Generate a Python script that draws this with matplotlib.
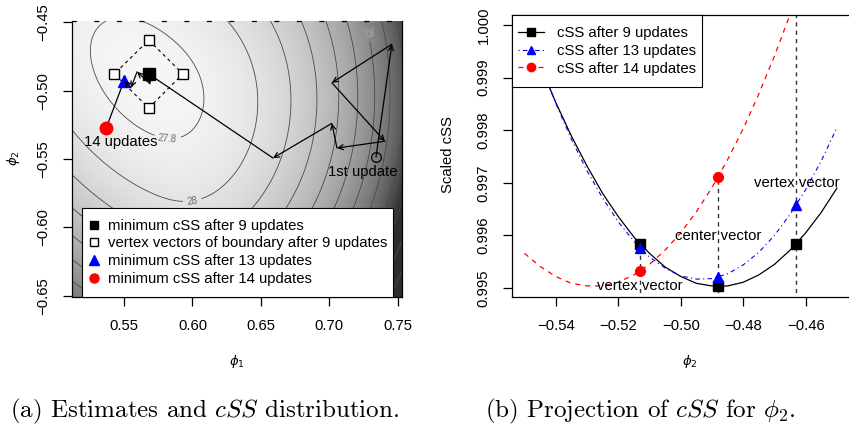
import numpy as np
import matplotlib
matplotlib.use("Agg")
import matplotlib.pyplot as plt
from matplotlib.colors import ListedColormap
from matplotlib.lines import Line2D
from matplotlib.path import Path

plt.rcParams.update({"font.family": ["Liberation Sans", "DejaVu Sans"], "font.size": 10.7,
                     "mathtext.fontset": "cm", "axes.linewidth": 0.9,
                     "xtick.major.width": 0.9, "ytick.major.width": 0.9})

W, H = 849, 425
FS = 10.7

# ---- (a) estimates on the cSS surface
path_phi1 = [0.734, 0.7456, 0.7018, 0.7405, 0.7055, 0.7018, 0.6588, 0.568, 0.569, 0.5595, 0.5551, 0.550]
path_phi2 = [-0.5486, -0.466, -0.4942, -0.537, -0.542, -0.5239, -0.5493, -0.4877, -0.495, -0.4862, -0.4978, -0.4928]
min9 = (0.568, -0.4877)
vert_phi1 = [0.568, 0.593, 0.568, 0.543]
vert_phi2 = [-0.463, -0.4877, -0.5127, -0.4877]
min13 = (0.550, -0.4928)
min14 = (0.5369, -0.5275)

# cSS surface: tilted bowl around the optimum, steeper towards large phi1
CSS_MIN = 27.74
CSS_CENTER = (0.568, -0.491)
CSS_LEVELS = np.round(np.arange(27.8, 30.41, 0.2), 1)
LABELLED = {27.8: (0.582, -0.532), 28.0: (0.5996, -0.579), 29.0: (0.728, -0.4572)}
LABEL_COLOR = {27.8: "#707070", 28.0: "#707070", 29.0: "#a8a8a8"}

# ---- (b) projection of cSS onto phi2
phi2_grid = [-0.550, -0.545, -0.540, -0.535, -0.530, -0.525, -0.520, -0.515, -0.510, -0.505, -0.500,
             -0.495, -0.490, -0.485, -0.480, -0.475, -0.470, -0.465, -0.460, -0.455, -0.450]
css9 = [1.00001, 0.99924, 0.99853, 0.99789, 0.99732, 0.99680, 0.99636, 0.99597, 0.99566, 0.99540, 0.99522,
        0.99509, 0.99504, 0.99504, 0.99511, 0.99525, 0.99545, 0.99572, 0.99605, 0.99644, 0.99690]
css13 = [1.00010, 0.99927, 0.99851, 0.99783, 0.99723, 0.99671, 0.99626, 0.99589, 0.99559, 0.99538, 0.99523,
         0.99517, 0.99518, 0.99527, 0.99544, 0.99568, 0.99600, 0.99640, 0.99687, 0.99742, 0.99805]
css14 = [0.99566, 0.99541, 0.99522, 0.99509, 0.99504, 0.99504, 0.99511, 0.99525, 0.99545, 0.99572, 0.99605,
         0.99645, 0.99691, 0.99744, 0.99803, 0.99869, 0.99941, 1.00020, 1.00105, 1.00197, 1.00295]
vec_phi2 = [-0.513, -0.488, -0.463]
pts9 = [0.99584, 0.99504, 0.99584]
pts13 = [0.99576, 0.99521, 0.99658]
pts14 = [0.99532, 0.99711]
vline_top = [0.99584, 0.99711, 1.0005]
vec_names = ["vertex vector", "center vector", "vertex vector"]
vec_text_y = [0.99503, 0.99599, 0.99700]


def px(x0, y0, x1, y1):
    return [x0 / W, 1 - y1 / H, (x1 - x0) / W, (y1 - y0) / H]


def tall_box(x0, y0, width, height, mutation_size):
    # legend frame with extra room above and below only, like R's legend()
    dy = 0.35 * mutation_size
    return Path([(x0, y0 - dy), (x0 + width, y0 - dy), (x0 + width, y0 + height + dy),
                 (x0, y0 + height + dy), (x0, y0 - dy)], closed=True)


fig = plt.figure(figsize=(W / 100, H / 100), dpi=100)
ax = fig.add_axes(px(72, 21, 402, 297))
ax2 = fig.add_axes(px(512, 15, 851, 297))
pad_px = 0.35 * FS * 100 / 72

# --- left panel
xlim, ylim = (0.512, 0.753), (-0.651, -0.449)
g1 = np.linspace(*xlim, 400)
g2 = np.linspace(*ylim, 400)
X, Y = np.meshgrid(g1, g2)
p = (X - CSS_CENTER[0]) * 1375
q = -(Y - CSS_CENTER[1]) * 1375
pp = np.clip(p, 0, None)
Z = CSS_MIN + 2e-5 * ((1.1 + 0.1 * (pp / 200) ** 2) * p ** 2
                      - 0.95 / (1 + (pp / 100) ** 2) * p * q + q ** 2)

t = np.linspace(0, 1, 256)
g = ((1 - t) * 0.965 ** 1.8 + t * 0.18 ** 1.8) ** (1 / 1.8)
grays = ListedColormap(np.stack([g, g, g], 1))
ax.imshow(Z, extent=(*xlim, *ylim), origin="lower", aspect="auto", cmap=grays,
          vmin=CSS_MIN, vmax=29.6, interpolation="bilinear")
plain = [lv for lv in CSS_LEVELS if float(lv) not in LABELLED]
ax.contour(X, Y, Z, levels=plain, colors="#4a4a4a", linewidths=0.6)
for lv, where in LABELLED.items():
    cl = ax.contour(X, Y, Z, levels=[lv], colors="#4a4a4a", linewidths=0.6)
    ax.clabel(cl, manual=[where], fmt=lambda v: f"{v:g}", fontsize=7,
              colors=LABEL_COLOR[lv], inline=True, inline_spacing=4)

ax.plot(vert_phi1 + vert_phi1[:1], vert_phi2 + vert_phi2[:1], color="k", lw=0.8, ls=(0, (3, 3)))
for i in range(len(path_phi1) - 1):
    ax.annotate("", xy=(path_phi1[i + 1], path_phi2[i + 1]), xytext=(path_phi1[i], path_phi2[i]),
                arrowprops=dict(arrowstyle="->", color="k", lw=0.9, shrinkA=0, shrinkB=0,
                                mutation_scale=9))
ax.plot([min14[0], min13[0]], [min14[1], min13[1]], color="k", lw=0.9)
ax.plot(path_phi1[0], path_phi2[0], "o", mfc="none", mec="k", ms=7, mew=0.9)
ax.plot(vert_phi1, vert_phi2, "s", mfc="white", mec="k", ms=7, mew=1)
ax.plot(*min9, "s", color="k", ms=8)
ax.plot(*min13, "^", color="blue", ms=9)
ax.plot(*min14, "o", color="red", ms=9)
ax.text(0.5478, -0.5377, "14 updates", ha="center", va="center", fontsize=FS)
ax.text(0.7245, -0.5594, "1st update", ha="center", va="center", fontsize=FS)

ax.set_xlim(xlim)
ax.set_ylim(ylim)
ax.set_xticks([0.55, 0.60, 0.65, 0.70, 0.75])
ax.set_xticklabels(["0.55", "0.60", "0.65", "0.70", "0.75"])
ax.set_yticks([-0.65, -0.60, -0.55, -0.50, -0.45])
ax.set_yticklabels(["\u22120.65", "\u22120.60", "\u22120.55", "\u22120.50", "\u22120.45"])
ax.spines["top"].set_linestyle((0, (3, 15)))

leg_handles = [
    Line2D([], [], ls="none", marker="s", color="k", ms=6),
    Line2D([], [], ls="none", marker="s", mfc="white", mec="k", ms=6),
    Line2D([], [], ls="none", marker="^", color="blue", ms=6.5),
    Line2D([], [], ls="none", marker="o", color="red", ms=6.5),
]
leg_labels = ["minimum cSS after 9 updates", "vertex vectors of boundary after 9 updates",
              "minimum cSS after 13 updates", "minimum cSS after 14 updates"]
lg = ax.legend(leg_handles, leg_labels, loc="lower center",
               bbox_to_anchor=(0.5015, pad_px / 276), borderaxespad=0, fancybox=False,
               framealpha=1, edgecolor="k", handlelength=0.8, handletextpad=0.54,
               labelspacing=0.25, fontsize=FS, borderpad=0.4)
lg.get_frame().set_boxstyle(tall_box)
lg.get_frame().set_linewidth(0.8)

# --- right panel
ax2.plot(phi2_grid, css9, color="k", lw=0.9)
ax2.plot(phi2_grid, css13, color="blue", lw=0.8, ls=(0, (1, 3, 4, 3)))
ax2.plot(phi2_grid, css14, color="red", lw=0.9, ls=(0, (4, 4)))
for xv, top in zip(vec_phi2, vline_top):
    ax2.plot([xv, xv], [0.99, top], color="#333333", lw=1, ls=(0, (3, 3)))
ax2.plot(vec_phi2, pts9, "s", color="k", ms=7)
ax2.plot(vec_phi2, pts13, "^", color="blue", ms=7)
ax2.plot(vec_phi2[:2], pts14, "o", color="red", ms=7)
for xv, yv, s in zip(vec_phi2, vec_text_y, vec_names):
    ax2.text(xv, yv, s, ha="center", va="center", fontsize=FS)

ax2.set_xlim(-0.554, -0.4455)
ax2.set_ylim(0.99483, 1.00019)
ax2.set_xticks([-0.54, -0.52, -0.50, -0.48, -0.46])
ax2.set_xticklabels(["\u22120.54", "\u22120.52", "\u22120.50", "\u22120.48", "\u22120.46"])
ax2.set_yticks([0.995, 0.996, 0.997, 0.998, 0.999, 1.000])
ax2.set_yticklabels(["0.995", "0.996", "0.997", "0.998", "0.999", "1.000"])
ax2.spines["right"].set_visible(False)

leg2_handles = [
    Line2D([], [], color="k", lw=0.9, marker="s", ms=6),
    Line2D([], [], color="blue", lw=0.8, ls=(0, (1, 3, 4, 3)), marker="^", ms=6),
    Line2D([], [], color="red", lw=0.9, ls=(0, (4, 4)), marker="o", ms=6),
]
lg2 = ax2.legend(leg2_handles, ["cSS after 9 updates", "cSS after 13 updates", "cSS after 14 updates"],
                 loc="upper left", bbox_to_anchor=(0, 1 - pad_px / 282), borderaxespad=0,
                 fancybox=False, framealpha=1, edgecolor="k", handlelength=1.75,
                 handletextpad=0.88, labelspacing=0.25, fontsize=FS, borderpad=0.4)
lg2.get_frame().set_boxstyle(tall_box)
lg2.get_frame().set_linewidth(0.8)

for a in (ax, ax2):
    a.tick_params(direction="out", length=6.5, pad=9, labelsize=FS)
    a.tick_params(axis="y", labelrotation=90)
    for lab in a.get_yticklabels():
        lab.set_va("center")

# axis titles and captions
fig.text(237 / W, 1 - 362 / H, r"$\phi_1$", ha="center", va="center", fontsize=9.5,
         math_fontfamily="dejavusans")
fig.text(13 / W, 1 - 158 / H, r"$\phi_2$", ha="center", va="center", fontsize=9.5,
         rotation=90, math_fontfamily="dejavusans")
fig.text(690 / W, 1 - 362 / H, r"$\phi_2$", ha="center", va="center", fontsize=9.5,
         math_fontfamily="dejavusans")
fig.text(448 / W, 1 - 155 / H, "Scaled cSS", ha="center", va="center", fontsize=FS, rotation=90)
fig.text(205 / W, 1 - 411 / H, r"(a) Estimates and $cSS$ distribution.", ha="center", va="center",
         fontsize=18, family="cmr10")
fig.text(640 / W, 1 - 411 / H, r"(b) Projection of $cSS$ for $\phi_2$.", ha="center", va="center",
         fontsize=18, family="cmr10")

fig.savefig("out.png", dpi=100)
